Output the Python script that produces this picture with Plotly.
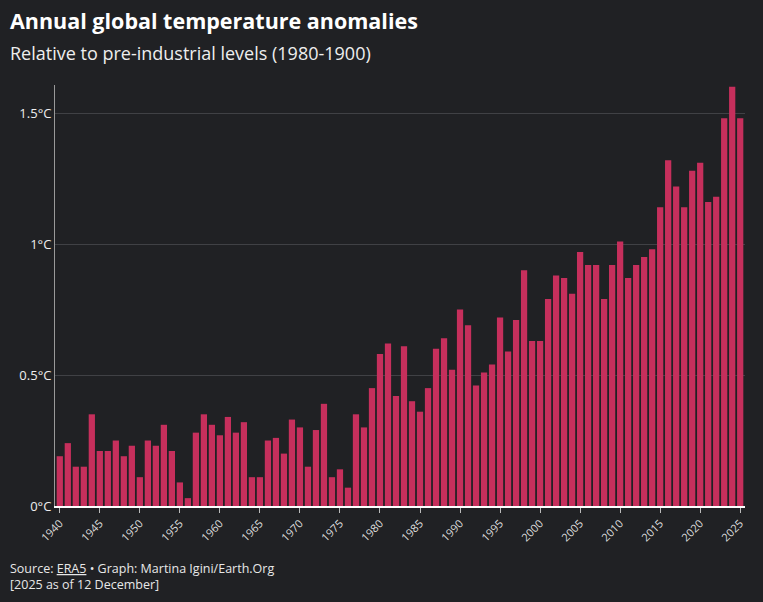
import plotly.graph_objects as go

years = list(range(1940, 2026))
anomalies = [0.19,0.24,0.15,0.15,0.35,0.21,0.21,0.25,0.19,0.23,
             0.11,0.25,0.23,0.31,0.21,0.09,0.03,0.28,0.35,0.31,
             0.27,0.34,0.28,0.32,0.11,0.11,0.25,0.26,0.20,0.33,
             0.30,0.15,0.29,0.39,0.11,0.14,0.07,0.35,0.30,0.45,
             0.58,0.62,0.42,0.61,0.40,0.36,0.45,0.60,0.64,0.52,
             0.75,0.69,0.46,0.51,0.54,0.72,0.59,0.71,0.90,0.63,
             0.63,0.79,0.88,0.87,0.81,0.97,0.92,0.92,0.79,0.92,
             1.01,0.87,0.92,0.95,0.98,1.14,1.32,1.22,1.14,1.28,
             1.31,1.16,1.18,1.48,1.60,1.48]
y_ticks = [0, 0.5, 1, 1.5]
y_labels = ["0°C", "0.5°C", "1°C", "1.5°C"]
x_ticks = list(range(1940, 2026, 5))

bg = "#202124"
fig = go.Figure(go.Bar(x=years, y=anomalies, marker=dict(color="#c62f5c", line=dict(width=0))))
fig.update_layout(
    width=763, height=602, paper_bgcolor=bg, plot_bgcolor=bg,
    margin=dict(l=55, r=18, t=85, b=96), bargap=0.22, showlegend=False,
    font=dict(family="Open Sans", color="#e8e8e8", size=13),
    xaxis=dict(tickvals=x_ticks, ticktext=[str(t) for t in x_ticks], tickangle=-45,
               range=[1939.4, 2025.6], showgrid=False, ticks="outside", ticklen=5,
               tickcolor="#bbbbbb", showline=True, linecolor="#ffffff", linewidth=1.5,
               tickfont=dict(size=11, color="#dddddd")),
    yaxis=dict(tickvals=y_ticks, ticktext=y_labels, range=[0, 1.607], showgrid=True,
               gridcolor="#404145", gridwidth=1, zeroline=False, showline=True,
               linecolor="#999999", ticks="", tickfont=dict(size=13, color="#eeeeee")),
)
x0 = (8 - 55) / 690
fig.add_annotation(text="<b>Annual global temperature anomalies</b>", xref="paper", yref="paper",
                   x=x0, y=1+(85-21)/421, xanchor="left", yanchor="middle", showarrow=False,
                   font=dict(size=21.5, color="#ffffff"))
fig.add_annotation(text="Relative to pre-industrial levels (1980-1900)", xref="paper", yref="paper",
                   x=x0, y=1+(85-53)/421, xanchor="left", yanchor="middle", showarrow=False,
                   font=dict(size=18, color="#eeeeee"))
fig.add_annotation(text="Source: <u>ERA5</u> • Graph: Martina Igini/Earth.Org<br>[2025 as of 12 December]",
                   xref="paper", yref="paper", x=x0, y=-(576-506)/421, xanchor="left", yanchor="middle",
                   align="left", showarrow=False, font=dict(size=12.5, color="#e8e8e8"))
fig.write_html("out.html", config={"displayModeBar": False},
               post_script="document.body.style.margin='0';document.body.style.background='#202124';document.body.style.overflow='hidden';")
